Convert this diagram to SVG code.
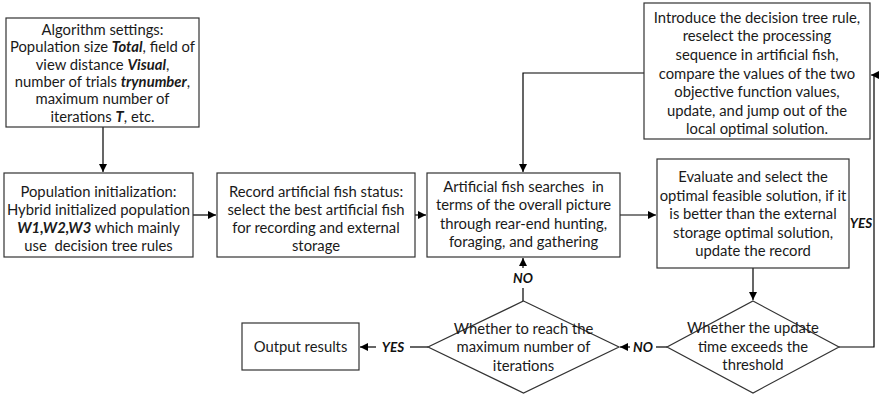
<svg xmlns="http://www.w3.org/2000/svg" width="887" height="394" viewBox="0 0 887 394">
<defs>
<marker id="ah" viewBox="0 0 10 10" refX="10" refY="5" markerWidth="8" markerHeight="8" markerUnits="userSpaceOnUse" orient="auto">
<path d="M0,0 L10,5 L0,10 z" fill="#000"/>
</marker>
<style>
.box{fill:#fff;stroke:#333;stroke-width:1.2}
.t{font-family:Lato,"Liberation Sans",sans-serif;font-size:14.8px;fill:#1a1a1a;text-anchor:middle;white-space:pre}
.b{font-weight:bold;font-style:italic}
.lbl{font-family:Lato,"Liberation Sans",sans-serif;font-size:13.5px;font-weight:bold;font-style:italic;fill:#111;text-anchor:middle}
.c{fill:none;stroke:#000;stroke-width:1.2}
</style>
</defs>
<rect width="887" height="394" fill="#fff"/>
<g id="connectors">
<path class="c" d="M103,127 V172" marker-end="url(#ah)"/>
<path class="c" d="M193,215 H216" marker-end="url(#ah)"/>
<path class="c" d="M415,215 H426" marker-end="url(#ah)"/>
<path class="c" d="M620,215 H656" marker-end="url(#ah)"/>
<path class="c" d="M753,268 V300" marker-end="url(#ah)"/>
<path class="c" d="M667,347 H656"/>
<path class="c" d="M630,347 H620" marker-end="url(#ah)"/>
<text class="lbl" x="643" y="352">NO</text>
<path class="c" d="M523,301 V288"/>
<path class="c" d="M523,268 V258" marker-end="url(#ah)"/>
<text class="lbl" x="523" y="283">NO</text>
<path class="c" d="M428,347 H410"/>
<path class="c" d="M376,347 H360" marker-end="url(#ah)"/>
<text class="lbl" x="393" y="352">YES</text>
<path class="c" d="M839,347 H874 V75 H871" marker-end="url(#ah)"/>
<text class="lbl" x="861" y="228">YES</text>
<path class="c" d="M644,73 H523 V172" marker-end="url(#ah)"/>
</g>
<g id="settings">
<rect class="box" x="6" y="18" width="193" height="109"/>
<text class="t" x="102.5" y="35">Algorithm settings:</text>
<text class="t" x="102.5" y="52">Population size <tspan class="b">Total</tspan>, field of</text>
<text class="t" x="102.5" y="69.5">view distance <tspan class="b">Visual</tspan>,</text>
<text class="t" x="102.5" y="87">number of trials <tspan class="b">trynumber</tspan>,</text>
<text class="t" x="102.5" y="104">maximum number of</text>
<text class="t" x="102.5" y="121.5">iterations <tspan class="b">T</tspan>, etc.</text>
</g>
<g id="init">
<rect class="box" x="4" y="173" width="189" height="84"/>
<text class="t" x="98.5" y="197">Population initialization:</text>
<text class="t" x="98.5" y="215">Hybrid initialized population</text>
<text class="t" x="98.5" y="233"><tspan class="b">W1,W2,W3</tspan> which mainly</text>
<text class="t" x="98.5" y="251">use  decision tree rules</text>
</g>
<g id="record">
<rect class="box" x="217" y="173" width="198" height="84"/>
<text class="t" x="316" y="197">Record artificial fish status:</text>
<text class="t" x="316" y="215">select the best artificial fish</text>
<text class="t" x="316" y="233">for recording and external</text>
<text class="t" x="316" y="251">storage</text>
</g>
<g id="search">
<rect class="box" x="427" y="173" width="193" height="84"/>
<text class="t" x="523.5" y="192">Artificial fish searches  in</text>
<text class="t" x="523.5" y="210">terms of the overall picture</text>
<text class="t" x="523.5" y="228.5">through rear-end hunting,</text>
<text class="t" x="523.5" y="246.5">foraging, and gathering</text>
</g>
<g id="evaluate">
<rect class="box" x="657" y="159" width="192" height="109"/>
<text class="t" x="753" y="182">Evaluate and select the</text>
<text class="t" x="753" y="201">optimal feasible solution, if it</text>
<text class="t" x="753" y="219">is better than the external</text>
<text class="t" x="753" y="238">storage optimal solution,</text>
<text class="t" x="753" y="256">update the record</text>
</g>
<g id="introduce">
<rect class="box" x="644" y="3" width="226" height="136"/>
<text class="t" x="757" y="23">Introduce the decision tree rule,</text>
<text class="t" x="757" y="41">reselect the processing</text>
<text class="t" x="757" y="60">sequence in artificial fish,</text>
<text class="t" x="757" y="79">compare the values of the two</text>
<text class="t" x="757" y="97">objective function values,</text>
<text class="t" x="757" y="116">update, and jump out of the</text>
<text class="t" x="757" y="134">local optimal solution.</text>
</g>
<g id="threshold">
<polygon class="box" points="753,301 839,347 753,393 667,347"/>
<text class="t" x="753" y="333">Whether the update</text>
<text class="t" x="753" y="352">time exceeds the</text>
<text class="t" x="753" y="370">threshold</text>
</g>
<g id="maxiter">
<polygon class="box" points="523.5,301 619,347 523.5,393 428,347"/>
<text class="t" x="523.5" y="334">Whether to reach the</text>
<text class="t" x="523.5" y="352">maximum number of</text>
<text class="t" x="523.5" y="371">iterations</text>
</g>
<g id="output">
<rect class="box" x="242" y="323" width="117" height="47"/>
<text class="t" x="300.5" y="352">Output results</text>
</g>
</svg>
